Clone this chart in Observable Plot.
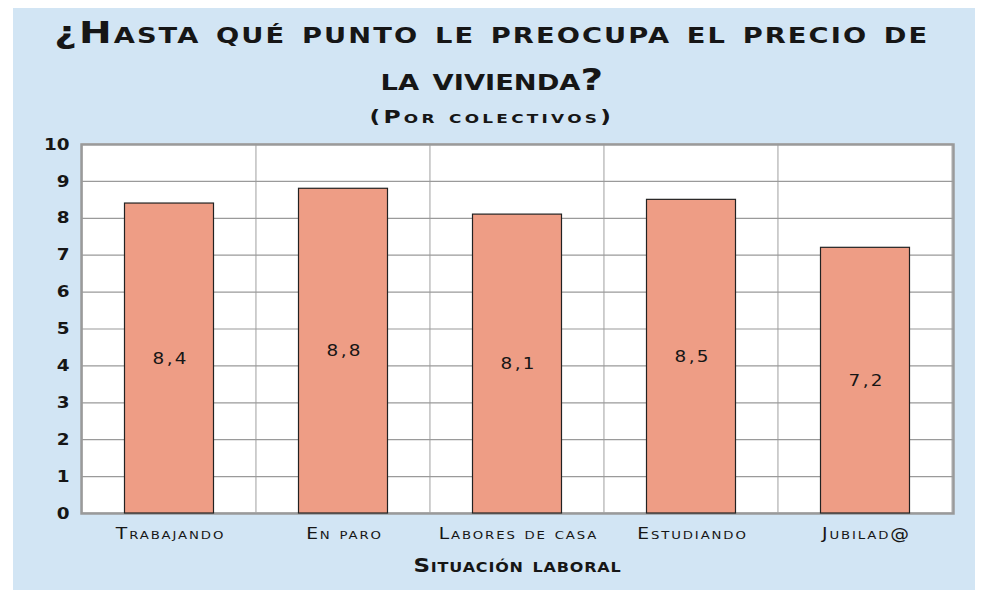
<!DOCTYPE html>
<html>
<head>
<meta charset="utf-8">
<script src="https://cdn.jsdelivr.net/npm/d3@7"></script>
<script src="https://cdn.jsdelivr.net/npm/@observablehq/plot@0.6"></script>
<style>
  html, body { margin: 0; padding: 0; background: #ffffff; width: 986px; height: 592px; overflow: hidden; }
  #bg { position: absolute; left: 13px; top: 8px; width: 962px; height: 582px; background: #d2e5f4; }
  .t { position: absolute; left: 0; width: 986px; text-align: center; font-family: "DejaVu Sans", sans-serif; font-variant: small-caps; font-weight: bold; color: #161616; white-space: nowrap; transform: scaleX(1.3); transform-origin: 497px 0; }
  #t1 { top: 15px; font-size: 30px; letter-spacing: 1.6px; }
  #t2 { top: 62px; font-size: 30px; letter-spacing: 0px; }
  #t3 { top: 106px; font-size: 18px; letter-spacing: 2.5px; }
  #chart { position: absolute; left: 0; top: 130px; }
</style>
</head>
<body>
<div id="bg"></div>
<div class="t" id="t1">¿Hasta qué punto le preocupa el precio de</div>
<div class="t" id="t2">la vivienda?</div>
<div class="t" id="t3">(Por colectivos)</div>
<div id="chart"></div>
<script>
const categorias = ["Trabajando", "En paro", "Labores de casa", "Estudiando", "Jubilad@"];
const valores = [8.4, 8.8, 8.1, 8.5, 7.2];
const yTicks = [0, 1, 2, 3, 4, 5, 6, 7, 8, 9, 10];
const ejeX = "Situación laboral";

const data = categorias.map((c, i) => ({categoria: c, valor: valores[i]}));
const fmt = v => v.toFixed(1).replace(".", ",");

const plot = Plot.plot({
  width: 986,
  height: 462,
  marginTop: 14,
  marginBottom: 79,
  marginLeft: 81,
  marginRight: 33,
  style: {
    background: "transparent",
    fontFamily: "DejaVu Sans, sans-serif",
    fontVariant: "small-caps",
    color: "#161616"
  },
  x: {domain: categorias, padding: 0},
  y: {domain: [0, 10], ticks: yTicks},
  marks: [
    Plot.cell(categorias, {x: d => d, fill: "white", stroke: "#c6c6c6", strokeWidth: 1.5}),
    Plot.gridY(yTicks, {stroke: "#9a9a9a", strokeOpacity: 1, strokeWidth: 1.2}),
    Plot.frame({stroke: "#9a9a9a", strokeWidth: 2.5}),
    Plot.barY(data, {x: "categoria", y: "valor", fill: "#ee9d85", stroke: "#222", strokeWidth: 1.2, insetLeft: 42.5, insetRight: 42.5}),
    Plot.text(data, {x: "categoria", y: d => d.valor / 2, text: d => fmt(d.valor), fontSize: 16, fill: "#161616", dx: 1.2}),
    Plot.axisY(yTicks, {tickSize: 0, tickPadding: 12, fontSize: 16, fontWeight: "bold", tickFormat: d => String(d), label: null}),
    Plot.axisX({tickSize: 0, tickPadding: 15, fontSize: 15, dx: 1, label: ejeX, labelAnchor: "center", labelArrow: "none", labelOffset: 58})
  ]
});

function widen(texts, s, spacing) {
  texts.forEach(t => {
    let tr = t.getAttribute("transform");
    if (!tr) {
      const x = t.getAttribute("x") || 0, y = t.getAttribute("y") || 0;
      t.removeAttribute("x"); t.removeAttribute("y");
      tr = `translate(${x},${y})`;
    }
    t.setAttribute("transform", `${tr} scale(${s},1)`);
    if (spacing != null) t.style.letterSpacing = spacing + "px";
  });
}
plot.querySelectorAll("g[aria-label='x-axis label']").forEach(el => {
  el.setAttribute("font-size", "20");
  el.setAttribute("font-weight", "bold");
  widen(el.querySelectorAll("text"), 1.15, 0.7);
});
plot.querySelectorAll("g[aria-label='x-axis tick label']").forEach(el => {
  widen(el.querySelectorAll("text"), 1.25, 1.5);
});
plot.querySelectorAll("g[aria-label='y-axis tick label']").forEach(el => {
  widen(el.querySelectorAll("text"), 1.15, null);
});
const valueTexts = Array.from(plot.querySelectorAll("g[aria-label='text'] text")).filter(t => t.textContent.includes(","));
widen(valueTexts, 1.15, 2);

document.getElementById("chart").appendChild(plot);
</script>
</body>
</html>
